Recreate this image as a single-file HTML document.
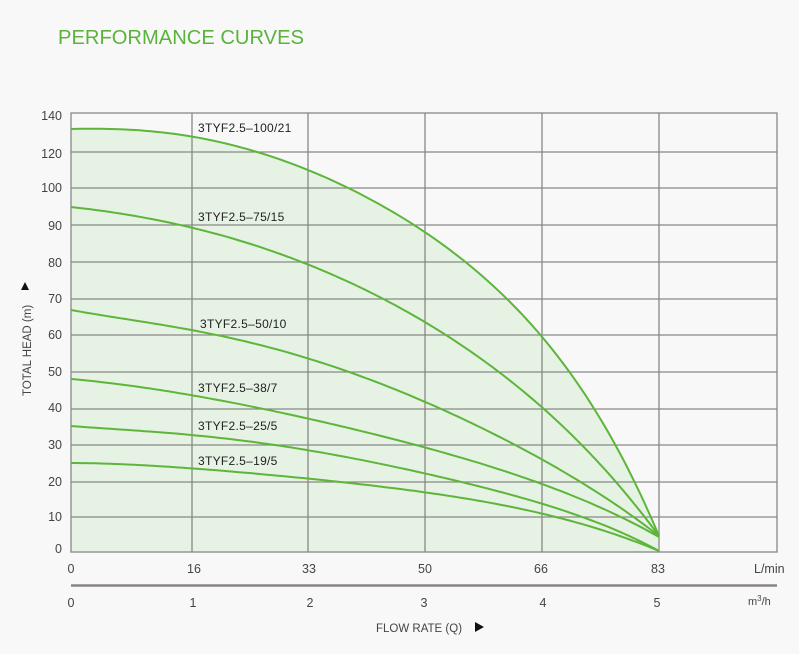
<!DOCTYPE html>
<html><head><meta charset="utf-8"><style>
html,body{margin:0;padding:0;background:#f8f8f8;}
svg{display:block;font-family:"Liberation Sans",sans-serif;}
</style></head><body>
<svg width="799" height="654" viewBox="0 0 799 654">
<rect width="799" height="654" fill="#f8f8f8"/>
<text x="58" y="44" font-size="20" fill="#5bb33c" textLength="246" lengthAdjust="spacingAndGlyphs">PERFORMANCE CURVES</text>
<path id="fill" fill="#e6f2e4" d=""/>
<g stroke="#888" stroke-width="1.3" fill="none">
<rect x="71" y="113" width="706" height="439"/>
<path d="M71 152H777M71 188H777M71 225H777M71 262H777M71 299H777M71 335H777M71 372H777M71 409H777M71 445H777M71 482H777M71 517H777"/>
<path d="M192 113V552M308 113V552M425 113V552M542 113V552M659 113V552"/>
</g>
<g id="curves" stroke="#5db53a" stroke-width="2" fill="none" stroke-linejoin="round"></g>
<g font-size="12" fill="#222" letter-spacing="0.3">
<text x="198" y="132">3TYF2.5–100/21</text>
<text x="198" y="221">3TYF2.5–75/15</text>
<text x="200" y="328">3TYF2.5–50/10</text>
<text x="198" y="392">3TYF2.5–38/7</text>
<text x="198" y="430">3TYF2.5–25/5</text>
<text x="198" y="465">3TYF2.5–19/5</text>
</g>
<g font-size="12.5" fill="#444" text-anchor="end">
<text x="62" y="120">140</text><text x="62" y="158">120</text><text x="62" y="192">100</text>
<text x="62" y="230">90</text><text x="62" y="267">80</text><text x="62" y="303">70</text>
<text x="62" y="339">60</text><text x="62" y="376">50</text><text x="62" y="412">40</text>
<text x="62" y="449">30</text><text x="62" y="486">20</text><text x="62" y="521">10</text>
<text x="62" y="553">0</text>
</g>
<g font-size="12.5" fill="#444" text-anchor="middle">
<text x="71" y="573">0</text><text x="194" y="573">16</text><text x="309" y="573">33</text>
<text x="425" y="573">50</text><text x="541" y="573">66</text><text x="658" y="573">83</text>
<text x="71" y="607">0</text><text x="193" y="607">1</text><text x="310" y="607">2</text>
<text x="424" y="607">3</text><text x="543" y="607">4</text><text x="657" y="607">5</text>
</g>
<text x="754" y="573" font-size="12.5" fill="#444">L/min</text>
<text x="748" y="605" font-size="11" fill="#444">m<tspan font-size="8" dy="-4">3</tspan><tspan dy="4">/h</tspan></text>
<line x1="71" y1="585.5" x2="777" y2="585.5" stroke="#8a8480" stroke-width="2.5"/>
<text x="376" y="632" font-size="11.5" fill="#444">FLOW RATE (Q)</text>
<path d="M475 622 L484 627 L475 632 Z" fill="#111"/>
<text transform="translate(31,396) rotate(-90)" font-size="11.5" fill="#444">TOTAL HEAD (m)</text>
<path d="M21 290 L25 282 L29 290 Z" fill="#111"/>
</svg>
<script>
var C=[
[[71,129],[100,128],[150,131],[192,137],[255,152],[308,170],[370,198],[420,228],[462,260],[505,300],[542,335],[570,372],[597,412],[625,465],[659,536]],
[[71,207],[130,215],[192,227],[250,245],[308,265],[370,291],[420,318],[460,345],[500,375],[542,405],[583,448],[625,491],[659,536]],
[[71,310],[130,319],[192,331],[250,343],[308,357],[370,380],[420,400],[480,428],[542,458],[600,495],[659,536]],
[[71,379],[130,386],[192,395],[250,406],[308,419],[370,433],[420,446],[480,464],[542,483],[600,508],[659,537]],
[[71,426],[130,430],[192,435],[250,442],[308,450],[370,461],[420,473],[480,487],[542,503],[600,524],[659,551]],
[[71,463],[130,465],[192,468],[250,473],[308,479],[370,485],[420,492],[480,501],[542,513],[600,530],[659,551]]
];
var DEG=5;
function fit(p){
 var n=DEG+1,A=[],b=[],i,j,k;
 for(i=0;i<n;i++){A.push(new Array(n).fill(0));b.push(0);}
 p.forEach(function(q,idx){var t=(q[0]-71)/588,w=(idx==0||idx==p.length-1)?50:1;
  for(i=0;i<n;i++){for(j=0;j<n;j++)A[i][j]+=w*Math.pow(t,i+j);b[i]+=w*q[1]*Math.pow(t,i);}});
 for(i=0;i<n;i++){var m=i;for(k=i+1;k<n;k++)if(Math.abs(A[k][i])>Math.abs(A[m][i]))m=k;
  var T=A[i];A[i]=A[m];A[m]=T;var tb=b[i];b[i]=b[m];b[m]=tb;
  for(k=i+1;k<n;k++){var f=A[k][i]/A[i][i];for(j=i;j<n;j++)A[k][j]-=f*A[i][j];b[k]-=f*b[i];}}
 var c=new Array(n).fill(0);
 for(i=n-1;i>=0;i--){var s=b[i];for(j=i+1;j<n;j++)s-=A[i][j]*c[j];c[i]=s/A[i][i];}
 return c;}
function path(p){var c=fit(p),d="";for(var s=0;s<=120;s++){var t=s/120,y=0;for(var i=0;i<c.length;i++)y+=c[i]*Math.pow(t,i);
 d+=(s?"L":"M")+(71+588*t).toFixed(1)+" "+y.toFixed(1);}return d;}
var g=document.getElementById("curves"),ns="http://www.w3.org/2000/svg";
C.forEach(function(p){var e=document.createElementNS(ns,"path");e.setAttribute("d",path(p));g.appendChild(e);});
document.getElementById("fill").setAttribute("d",path(C[0])+"L659 552L71 552Z");
</script>
</body></html>
